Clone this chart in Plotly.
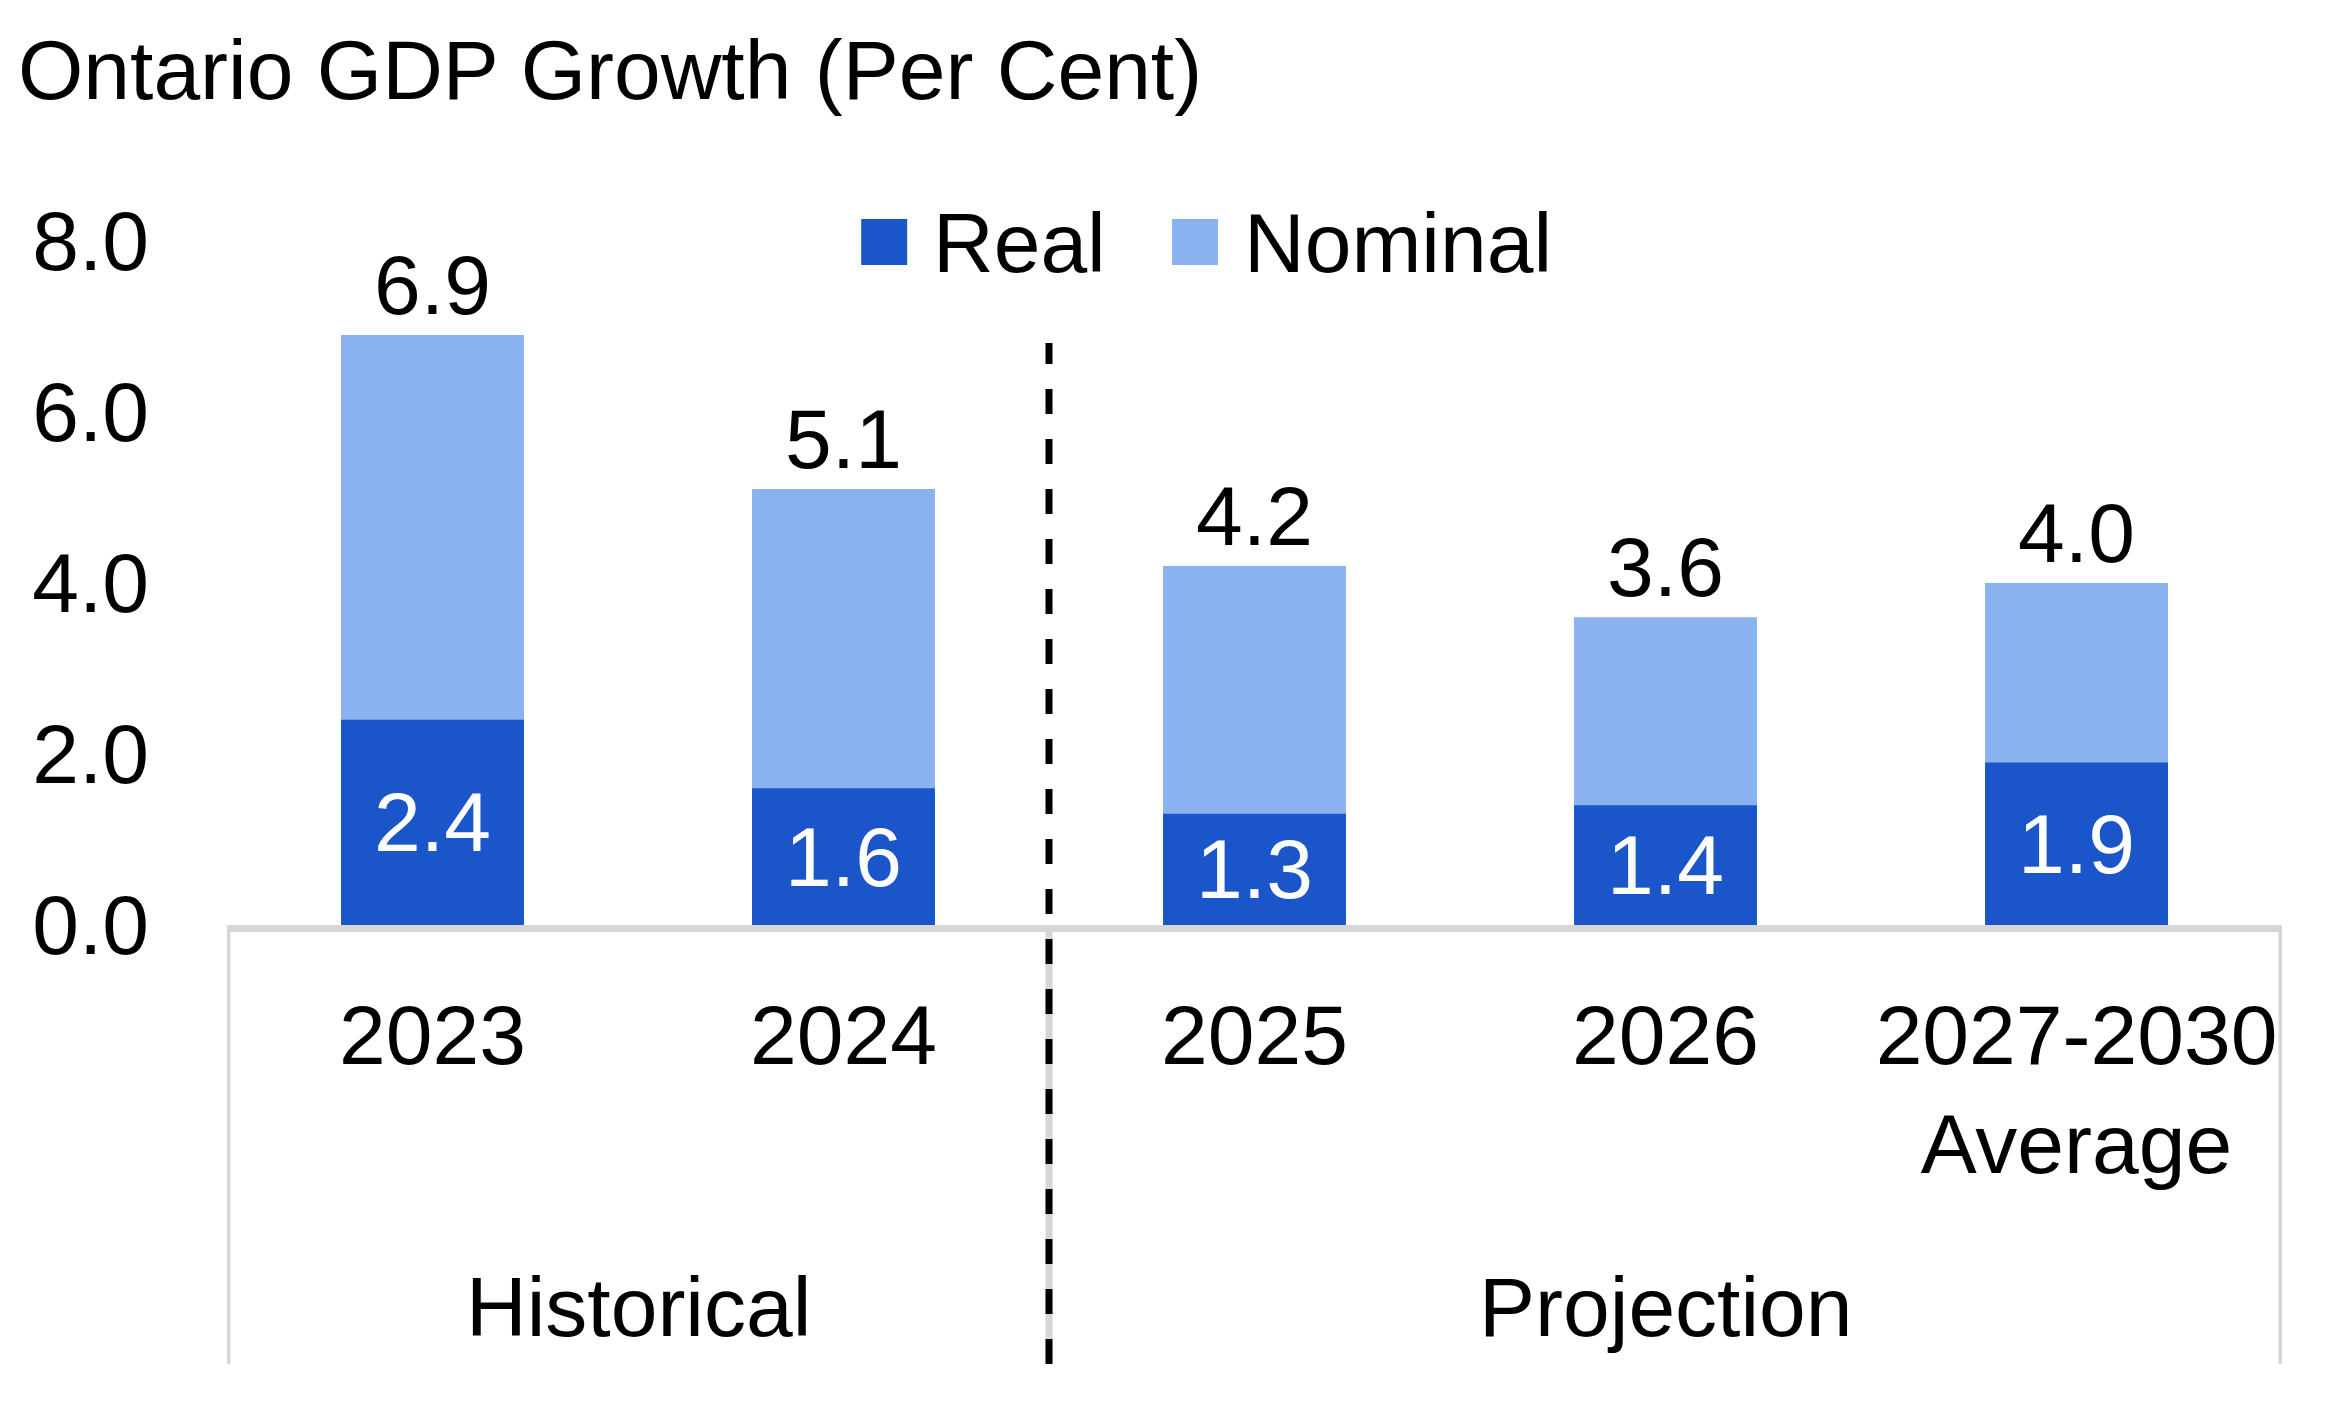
import plotly.graph_objects as go

# ---------------- data ----------------
categories = ["2023", "2024", "2025", "2026", "2027-2030<br>Average"]
real = [2.4, 1.6, 1.3, 1.4, 1.9]
nominal = [6.9, 5.1, 4.2, 3.6, 4.0]
series_names = ["Real", "Nominal"]
groups = ["Historical", "Projection"]
group_first = [0, 2]
group_last = [1, 4]
y_ticks = [0, 2, 4, 6, 8]
title_text = "Ontario GDP Growth (Per Cent)"

# ---------------- style ----------------
REAL_COLOR = "#1A56C9"
NOMINAL_COLOR = "#8AB2EE"
GRID_GRAY = "#D6D6D6"
FONT = "Liberation Sans, Arial, sans-serif"
FS = 84

W, H = 2334, 1402
ML, MR, MT, MB = 226.5, 51.5, 241, 477
PW = W - ML - MR
PH = H - MT - MB


def px_x(X):
    return (X - ML) / PW


def px_y(Y):
    return (H - MB - Y) / PH


fig = go.Figure()

fig.add_bar(
    x=categories, y=nominal, name=series_names[1],
    marker=dict(color=NOMINAL_COLOR, line=dict(width=0)),
    width=0.445,
    text=[f"{v:.1f}" for v in nominal], textposition="outside",
    textfont=dict(color="black", size=FS, family=FONT),
    cliponaxis=False, showlegend=False,
)
fig.add_bar(
    x=categories, y=real, name=series_names[0],
    marker=dict(color=REAL_COLOR, line=dict(width=0)),
    width=0.445,
    text=[f"{v:.1f}" for v in real], textposition="inside",
    insidetextanchor="middle",
    textfont=dict(color="white", size=FS, family=FONT),
    showlegend=False,
)

shapes = []
n = len(categories)
bottom = px_y(1364)
axis_y = px_y(928.5)
# horizontal category-axis line (just below the bars)
shapes.append(dict(type="line", xref="x", yref="paper", x0=-0.5, x1=n - 0.5,
                   y0=axis_y, y1=axis_y, line=dict(color=GRID_GRAY, width=7),
                   layer="below"))
# category frame lines
for xv in [-0.5, group_last[0] + 0.5, n - 0.5]:
    shapes.append(dict(type="line", xref="x", yref="paper", x0=xv, x1=xv,
                       y0=bottom, y1=axis_y, line=dict(color=GRID_GRAY, width=7),
                       layer="below"))
# dashed divider between historical and projection
shapes.append(dict(type="line", xref="x", yref="paper",
                   x0=group_last[0] + 0.5, x1=group_last[0] + 0.5,
                   y0=bottom, y1=px_y(343),
                   line=dict(color="black", width=7, dash="25px,25px")))

# manual legend (large square swatches)
annotations = []
leg = [(series_names[0], REAL_COLOR, 861), (series_names[1], NOMINAL_COLOR, 1172)]
for name, col, X in leg:
    shapes.append(dict(type="rect", xref="paper", yref="paper",
                       x0=px_x(X), x1=px_x(X + 46), y0=px_y(265), y1=px_y(219),
                       fillcolor=col, line=dict(width=0)))
    annotations.append(dict(xref="paper", yref="paper", x=px_x(X + 70), y=px_y(243),
                            text=name, showarrow=False, xanchor="left", yanchor="middle",
                            font=dict(size=FS, color="black", family=FONT)))

# group labels
for g, a, b in zip(groups, group_first, group_last):
    annotations.append(dict(xref="x", yref="paper", x=(a + b) / 2, y=px_y(1307),
                            text=g, showarrow=False, xanchor="center", yanchor="middle",
                            font=dict(size=FS, color="black", family=FONT)))

fig.update_layout(
    width=W, height=H,
    margin=dict(l=ML, r=MR, t=MT, b=MB, pad=0),
    paper_bgcolor="white", plot_bgcolor="white",
    barmode="overlay",
    font=dict(family=FONT, size=FS, color="black"),
    uniformtext=dict(minsize=FS, mode="show"),
    title=dict(text=title_text, xref="container", yref="container",
               x=18 / W, xanchor="left", y=1 - 70 / H, yanchor="middle",
               font=dict(size=FS, color="black", family=FONT)),
    shapes=shapes,
    annotations=annotations,
    xaxis=dict(type="category", range=[-0.5, n - 0.5], showgrid=False,
               zeroline=False, showline=False,
               ticks="", ticklabelstandoff=54,
               tickfont=dict(size=FS, color="black", family=FONT)),
    yaxis=dict(range=[0, 8], tickvals=y_ticks, tickformat=".1f", showgrid=False,
               zeroline=False, showline=False, ticks="", ticklabelstandoff=77,
               tickfont=dict(size=FS, color="black", family=FONT)),
)

fig.write_html(
    "out.html",
    config={"displayModeBar": False},
    post_script="document.body.style.margin='0';document.body.style.overflow='hidden';",
)
